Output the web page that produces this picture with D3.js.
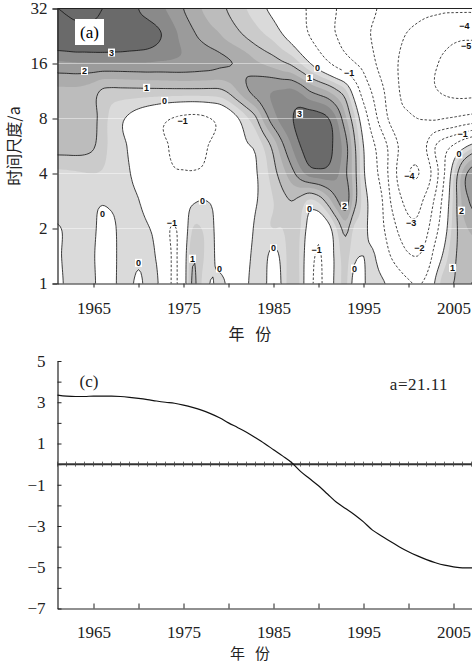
<!DOCTYPE html>
<html><head><meta charset="utf-8">
<script src="https://cdn.jsdelivr.net/npm/d3@7"></script>
<style>body{margin:0;background:#fff}svg{display:block}</style>
</head><body>
<svg id="c" width="472" height="667"></svg>
<script>
// ---------- DATA ----------
// wavelet real-part grid: columns = years 1961..2009, rows = log2(period) 0..5 step 0.5
const gridYears = d3.range(1961, 2010);
const gridLog2Period = [0, 0.5, 1, 1.5, 2, 2.5, 3, 3.5, 4, 4.5, 5];
const wav_p00 = [-0.15,0.1,0.35,0.3,0.1,-0.35,-0.2,0.15,0.15,-0.15,0.2,0.1,-0.6,-1.1,-0.4,1.1,0.5,-0.02,0.12,-0.1,-0.4,-0.1,0.3,0.1,-0.3,0.1,0.9,0.4,-0.7,-1.2,-0.5,0.2,0.6,-0.2,-0.05,0.2,0.1,-0.2,-0.6,-0.9,-1.05,-0.8,0.1,0.8,1.0,1.0,1.0,0.9,0.8];
const wav_p05 = [-0.1,0.15,0.35,0.3,0.05,-0.3,-0.2,0.15,0.3,0.15,0.2,-0.05,-0.6,-1.1,-0.4,0.9,0.6,0.2,-0.2,-0.3,-0.4,-0.2,0.2,0.15,-0.2,0.2,0.8,0.4,-0.6,-1.1,-0.5,0.2,0.7,0.1,0.0,0.1,-0.4,-1.0,-1.5,-1.9,-2.0,-1.6,-0.6,0.2,0.9,1.1,1.2,1.2,1.1];
const wav_p10 = [-0.05,0.1,0.3,0.35,0.1,-0.2,-0.15,0.15,0.3,0.2,0.05,-0.2,-0.8,-1.05,-0.5,0.5,0.5,0.2,-0.3,-0.3,-0.4,-0.3,0.1,0.4,0.5,0.5,0.8,0.5,-0.3,-0.7,-0.3,0.5,1.2,0.4,0.2,-0.3,-0.8,-1.5,-2.2,-2.7,-2.75,-2.2,-1.3,-0.3,0.7,1.3,1.6,1.7,1.6];
const wav_p15 = [0.35,0.33,0.3,0.2,0.1,0.05,0.1,0.15,0.15,0.02,-0.25,-0.45,-0.6,-0.55,-0.3,-0.1,0.02,-0.05,-0.3,-0.45,-0.5,-0.3,-0.05,0.2,0.5,0.8,1.0,0.8,0.4,0.6,1.2,1.9,2.3,1.2,0.3,-0.3,-0.9,-2.0,-2.8,-3.3,-3.3,-2.7,-1.8,-0.6,0.6,1.6,2.1,2.3,2.3];
const wav_p20 = [0.4,0.42,0.45,0.48,0.5,0.45,0.3,0.15,0.02,-0.2,-0.4,-0.6,-0.85,-0.95,-0.95,-0.95,-0.9,-0.75,-0.6,-0.4,-0.25,-0.15,-0.05,0.3,0.8,1.3,1.8,2.3,2.7,2.8,2.8,2.6,2.1,1.2,0.1,-0.6,-1.3,-2.3,-3.3,-3.95,-4.05,-3.5,-2.4,-1.0,0.4,1.6,2.3,2.6,2.6];
const wav_p25 = [1.25,1.25,1.25,1.2,1.05,0.7,0.35,0.12,-0.05,-0.25,-0.5,-0.75,-0.95,-1.08,-1.15,-1.15,-1.1,-0.95,-0.7,-0.45,-0.2,-0.05,0.1,0.6,1.2,1.9,2.5,3.0,3.3,3.35,3.2,2.8,2.2,1.1,0.0,-0.8,-1.5,-2.3,-3.1,-3.5,-3.6,-3.0,-2.0,-1.4,-0.9,-0.3,0.2,0.6,0.9];
const wav_p30 = [1.35,1.35,1.35,1.3,1.15,0.75,0.35,0.1,-0.1,-0.3,-0.5,-0.7,-0.9,-1.05,-1.15,-1.2,-1.15,-1.0,-0.8,-0.45,-0.05,0.4,0.9,1.7,2.3,2.7,2.95,3.2,3.3,3.25,3.05,2.5,1.6,0.6,-0.5,-1.5,-2.4,-3.2,-3.75,-3.9,-4.0,-4.05,-4.1,-4.0,-3.9,-3.75,-3.6,-3.4,-3.2];
const wav_p35 = [1.4,1.4,1.4,1.35,1.2,0.92,0.85,0.85,0.85,0.85,0.85,0.85,0.85,0.85,0.85,0.85,0.85,0.85,0.88,1.1,1.5,1.9,2.2,2.4,2.5,2.55,2.6,2.4,2.0,1.75,1.5,1.1,0.6,-0.4,-1.4,-2.1,-2.8,-3.45,-4.0,-4.25,-4.5,-4.75,-4.95,-5.1,-5.2,-5.25,-5.25,-5.25,-5.2];
const wav_p40 = [2.4,2.42,2.45,2.45,2.45,2.45,2.45,2.45,2.45,2.45,2.45,2.42,2.4,2.38,2.35,2.3,2.25,2.2,2.1,2.03,1.95,1.8,1.6,1.45,1.3,1.1,0.9,0.5,0.05,-0.4,-0.85,-1.25,-1.6,-1.95,-2.25,-2.8,-3.3,-3.7,-4.05,-4.3,-4.55,-4.75,-4.95,-5.1,-5.2,-5.25,-5.3,-5.25,-5.2];
const wav_p45 = [3.6,3.65,3.7,3.7,3.7,3.65,3.6,3.55,3.45,3.35,3.25,3.1,2.9,2.6,2.35,2.1,1.9,1.7,1.55,1.35,1.15,0.95,0.75,0.55,0.35,0.05,-0.25,-0.6,-1.0,-1.35,-1.7,-2.0,-2.3,-2.55,-2.8,-3.05,-3.3,-3.6,-3.85,-4.1,-4.3,-4.5,-4.65,-4.75,-4.85,-4.9,-4.9,-4.9,-4.85];
const wav_p50 = [4.0,4.05,4.1,4.1,4.1,4.0,3.9,3.7,3.4,3.0,2.8,2.65,2.5,2.25,2.0,1.75,1.5,1.3,1.15,0.95,0.75,0.5,0.3,0.05,-0.15,-0.4,-0.6,-0.85,-1.1,-1.4,-1.7,-2.0,-2.3,-2.5,-2.7,-2.9,-3.1,-3.25,-3.4,-3.55,-3.7,-3.8,-3.85,-3.9,-3.9,-3.9,-3.9,-3.85,-3.8];
const waveletRows = [wav_p00,wav_p05,wav_p10,wav_p15,wav_p20,wav_p25,wav_p30,wav_p35,wav_p40,wav_p45,wav_p50];

const contourLevels = [-5,-4,-3,-2,-1,0,1,2,3,4];
const shadeLevels = [0,0.5,1,1.5,2,2.5,3];
const shadeColors = ["#dadada","#cbcbcb","#bcbcbc","#acacac","#9b9b9b","#8a8a8a","#6a6a6a"];

const contourLabels = [
  {t:"3", year:1967.0, period:18.4},{t:"2", year:1964.0, period:14.6},{t:"1", year:1970.9, period:11.8},
  {t:"0", year:1972.9, period:10.0},{t:"\u22121", year:1974.9, period:7.8},{t:"0", year:1966.0, period:2.42},
  {t:"0", year:1977.1, period:2.85},{t:"\u22121", year:1973.7, period:2.16},{t:"1", year:1976.0, period:1.37},
  {t:"0", year:1979.0, period:1.21},{t:"0", year:1985.0, period:1.56},{t:"0", year:1970.0, period:1.30},
  {t:"0", year:1989.0, period:2.57},{t:"\u22121", year:1989.8, period:1.52},{t:"2", year:1992.9, period:2.67},
  {t:"3", year:1987.9, period:8.5},{t:"0", year:1989.9, period:15.2},{t:"1", year:1989.0, period:13.3},
  {t:"\u22121", year:1993.4, period:14.3},{t:"\u22124", year:2006.2, period:25.8},{t:"\u22125", year:2006.4, period:20.1},
  {t:"\u22121", year:2006.0, period:6.6},{t:"0", year:2005.6, period:5.1},{t:"\u22124", year:2000.1, period:3.9},
  {t:"\u22123", year:2000.3, period:2.16},{t:"\u22122", year:2001.2, period:1.57},{t:"2", year:2005.9, period:2.51},
  {t:"1", year:2004.9, period:1.22},{t:"0", year:1994.0, period:1.21}
];

const periodTicks = [1,2,4,8,16,32];
const yearTicks = [1965,1970,1975,1980,1985,1990,1995,2000,2005];
const yearTickLabels = [1965,1975,1985,1995,2005];

// panel (c) series
const seriesYears = d3.range(1961, 2009);
const seriesValues = [3.35,3.3,3.28,3.28,3.3,3.3,3.3,3.28,3.24,3.19,3.13,3.06,3.0,2.95,2.86,2.75,2.62,2.45,2.25,2.0,1.78,1.55,1.28,1.0,0.7,0.4,0.08,-0.35,-0.7,-1.05,-1.45,-1.85,-2.15,-2.45,-2.8,-3.2,-3.48,-3.75,-4.02,-4.25,-4.45,-4.63,-4.78,-4.9,-4.98,-5.03,-5.03,-5.0];
const valueTicks = d3.range(-7, 6);

// ---------- DRAW ----------
const svg = d3.select("#c");
const serif = "'Liberation Serif','DejaVu Serif',serif";
const cjk = "'Noto Sans CJK SC','Noto Sans',sans-serif";

const x = d3.scaleLinear().domain([1961, 2008]).range([57.5, 480.5]);
const yP = d3.scaleLog().base(2).domain([1, 32]).range([283.5, 8.5]);

// smooth upsampling of grid for rendering
function cr(p0,p1,p2,p3,t){const t2=t*t,t3=t2*t;return 0.5*(2*p1+(-p0+p2)*t+(2*p0-5*p1+4*p2-p3)*t2+(-p0+3*p1-3*p2+p3)*t3);}
function up(arr,f){const n=arr.length,o=[];for(let i=0;i<n-1;i++){const a=arr[Math.max(i-1,0)],b=arr[i],c=arr[i+1],d=arr[Math.min(i+2,n-1)];for(let k=0;k<f;k++)o.push(cr(a,b,c,d,k/f));}o.push(arr[n-1]);return o;}
const fx=4, fy=10;
const rowsX = waveletRows.map(r=>up(r,fx));
const nx = rowsX[0].length, ny = (waveletRows.length-1)*fy+1;
const values = new Array(nx*ny);
for(let i=0;i<nx;i++){const col=up(rowsX.map(r=>r[i]),fy);for(let j=0;j<ny;j++)values[i+j*nx]=col[j];}
const dP = (gridLog2Period[1]-gridLog2Period[0])/fy, dY=(gridYears[1]-gridYears[0])/fx;
const proj = d3.geoTransform({point(px,py){
  const yr = gridYears[0] + (px-0.5)*dY;
  const lp = gridLog2Period[0] + (py-0.5)*dP;
  this.stream.point(x(yr), yP(Math.pow(2,lp)));
}});
const path = d3.geoPath(proj);

svg.append("defs").append("clipPath").attr("id","clipA").append("rect")
  .attr("x",57.5).attr("y",8.5).attr("width",423).attr("height",275);
const gA = svg.append("g").attr("clip-path","url(#clipA)");
gA.append("rect").attr("x",57.5).attr("y",8.5).attr("width",423).attr("height",275).attr("fill","#fff");

const fills = d3.contours().size([nx,ny]).thresholds(shadeLevels)(values);
gA.selectAll("path.f").data(fills).join("path").attr("class","f")
  .attr("d",path).attr("fill",(d,i)=>shadeColors[i]).attr("stroke","none");

// faint grid lines
gA.selectAll("line.g").data(periodTicks.slice(1,5)).join("line")
  .attr("x1",57.5).attr("x2",480.5).attr("y1",d=>yP(d)).attr("y2",d=>yP(d))
  .attr("stroke","#fff").attr("stroke-opacity",0.45).attr("stroke-width",1);

const lines = d3.contours().size([nx,ny]).thresholds(contourLevels)(values);
gA.selectAll("path.l").data(lines).join("path").attr("class","l")
  .attr("d",path).attr("fill","none").attr("stroke","#111").attr("stroke-width",0.8)
  .attr("stroke-dasharray",d=>d.value<0?"2.5,1.8":null);

// contour labels
const lg = gA.append("g");
contourLabels.forEach(l=>{
  const g = lg.append("g").attr("transform",`translate(${x(l.year)},${yP(l.period)})`);
  const t = g.append("text").text(l.t).attr("text-anchor","middle").attr("dy","0.35em")
    .attr("font-family","'Liberation Sans','DejaVu Sans',sans-serif").attr("font-size",9).attr("font-weight","bold").attr("fill","#111");
  const b = t.node().getBBox();
  g.insert("rect","text").attr("x",b.x-1).attr("y",b.y+1).attr("width",b.width+2).attr("height",b.height-2).attr("fill","#fff");
});

// (a) label
svg.append("rect").attr("x",75).attr("y",19).attr("width",29).attr("height",26).attr("fill","#fff");
svg.append("text").attr("x",89.5).attr("y",38).attr("text-anchor","middle").attr("font-family",serif).attr("font-size",17).text("(a)");

// axes panel a
const axA_y = svg.append("g").attr("transform","translate(57.5,0)")
  .call(d3.axisLeft(yP).tickValues(periodTicks).tickFormat(d3.format("d")).tickSize(5).tickPadding(5));
const axA_x = svg.append("g").attr("transform","translate(0,283.5)")
  .call(d3.axisBottom(x).tickValues(yearTicks).tickFormat(d=>yearTickLabels.includes(d)?d:"").tickSizeInner(4).tickSizeOuter(0).tickPadding(14));
[axA_y,axA_x].forEach(a=>{a.select(".domain").attr("stroke","#222").attr("stroke-width",1.2);a.selectAll(".tick line").attr("stroke","#222");
  a.selectAll("text").attr("font-family",serif).attr("font-size",17).attr("fill","#222");});
svg.append("line").attr("x1",57.5).attr("x2",472).attr("y1",8.5).attr("y2",8.5).attr("stroke","#222").attr("stroke-width",1.2);

svg.append("text").attr("transform","translate(20,146) rotate(-90)").attr("text-anchor","middle")
  .attr("font-family",cjk).attr("font-size",16).attr("fill","#222").text("时间尺度/a");
svg.append("text").attr("x",250).attr("y",340).attr("text-anchor","middle").attr("font-family",cjk).attr("font-size",16).attr("fill","#222").attr("xml:space","preserve").text("年   份");

// ---------- panel c ----------
const yV = d3.scaleLinear().domain([-7,5]).range([608.5,361]);
const axC_y = svg.append("g").attr("transform","translate(57.5,0)")
  .call(d3.axisLeft(yV).tickValues(valueTicks).tickFormat(d=>Math.abs(d)%2===1?d3.format("d")(d):"").tickSizeInner(-4).tickSizeOuter(0).tickPadding(12));
const axC_x = svg.append("g").attr("transform","translate(0,608.5)")
  .call(d3.axisBottom(x).tickValues(yearTicks).tickFormat(d=>yearTickLabels.includes(d)?d:"").tickSizeInner(-5).tickSizeOuter(0).tickPadding(17));
[axC_y,axC_x].forEach(a=>{a.select(".domain").attr("stroke","#222").attr("stroke-width",1.2);a.selectAll(".tick line").attr("stroke","#222");
  a.selectAll("text").attr("font-family",serif).attr("font-size",17).attr("fill","#222");});

// zero line with yearly marks
svg.append("line").attr("x1",57.5).attr("x2",480).attr("y1",yV(0)).attr("y2",yV(0)).attr("stroke","#333").attr("stroke-width",2);
svg.append("g").selectAll("line").data(seriesYears).join("line")
  .attr("x1",d=>x(d)).attr("x2",d=>x(d)).attr("y1",yV(0)-2.5).attr("y2",yV(0)+2.5).attr("stroke","#444").attr("stroke-width",0.8);

svg.append("path").datum(seriesYears.map((yr,i)=>[yr,seriesValues[i]]))
  .attr("d",d3.line().x(d=>x(d[0])).y(d=>yV(d[1])).curve(d3.curveMonotoneX))
  .attr("fill","none").attr("stroke","#111").attr("stroke-width",1.2);

svg.append("text").attr("x",89).attr("y",387).attr("text-anchor","middle").attr("font-family",serif).attr("font-size",17).attr("fill","#222").text("(c)");
svg.append("text").attr("x",419).attr("y",390).attr("text-anchor","middle").attr("font-family",serif).attr("font-size",17).attr("fill","#222").attr("letter-spacing",0.5).text("a=21.11");
svg.append("text").attr("x",250).attr("y",659).attr("text-anchor","middle").attr("font-family",cjk).attr("font-size",15).attr("fill","#222").attr("xml:space","preserve").text("年   份");
</script>
</body></html>
